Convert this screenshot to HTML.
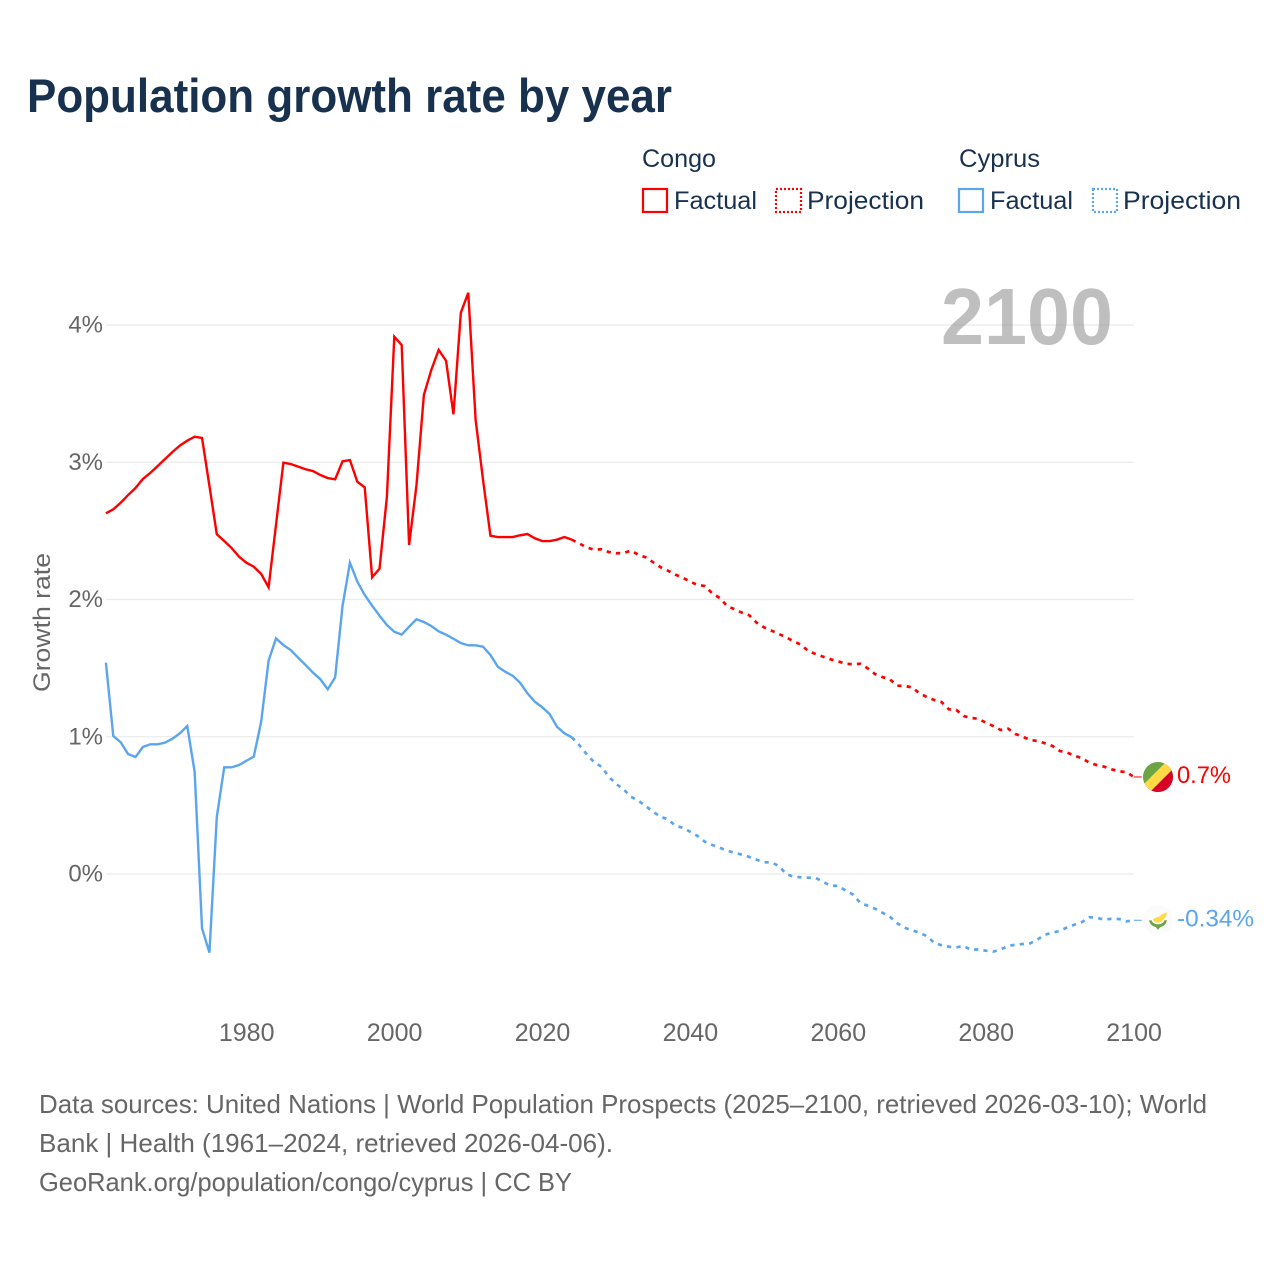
<!DOCTYPE html>
<html lang="en">
<head>
<meta charset="utf-8">
<title>Population growth rate by year</title>
<style>
html,body{margin:0;padding:0;background:#fff;}
svg{display:block;font-family:"Liberation Sans",sans-serif;}
</style>
</head>
<body>
<svg id="chart" xmlns="http://www.w3.org/2000/svg" width="1280" height="1280" viewBox="0 0 1280 1280">
  <rect x="0" y="0" width="1280" height="1280" fill="#ffffff"/>
  <text x="27" y="112" font-size="47" font-weight="700" fill="#18314f" textLength="645" lengthAdjust="spacingAndGlyphs">Population growth rate by year</text>

  <g font-size="25" fill="#18314f">
    <text x="642" y="167" textLength="74" lengthAdjust="spacingAndGlyphs">Congo</text>
    <text x="959" y="167" textLength="81" lengthAdjust="spacingAndGlyphs">Cyprus</text>
    <rect x="643" y="189" width="24" height="23" fill="none" stroke="#ff0000" stroke-width="2.2"/>
    <text x="674" y="209" textLength="83" lengthAdjust="spacingAndGlyphs">Factual</text>
    <rect x="776" y="189" width="25" height="23" fill="none" stroke="#ff0000" stroke-width="2.2" stroke-dasharray="2 2"/>
    <text x="807" y="209" textLength="117" lengthAdjust="spacingAndGlyphs">Projection</text>
    <rect x="959" y="189" width="24" height="23" fill="none" stroke="#5aa5ee" stroke-width="2.2"/>
    <text x="990" y="209" textLength="83" lengthAdjust="spacingAndGlyphs">Factual</text>
    <rect x="1093" y="189" width="24" height="23" fill="none" stroke="#5aa5ee" stroke-width="2.2" stroke-dasharray="2 2"/>
    <text x="1123" y="209" textLength="118" lengthAdjust="spacingAndGlyphs">Projection</text>
  </g>

  <g id="grid"></g>
  <g id="y-ticks" font-size="24" fill="#666666" text-anchor="end"></g>
  <g id="x-ticks" font-size="25" fill="#666666" text-anchor="middle"></g>
  <text transform="translate(50,622.5) rotate(-90)" font-size="24" fill="#666666" text-anchor="middle" textLength="139" lengthAdjust="spacingAndGlyphs">Growth rate</text>

  <g id="series"></g>

  <text x="941" y="344" font-size="80" font-weight="700" fill="#7f7f7f" fill-opacity="0.5" textLength="172" lengthAdjust="spacingAndGlyphs">2100</text>

  <defs>
    <clipPath id="flag-clip"><circle cx="0" cy="0" r="15"/></clipPath>
  </defs>
  <g id="flag-congo">
    <g clip-path="url(#flag-clip)">
      <rect x="-16" y="-16" width="32" height="32" fill="#6da544"/>
      <polygon points="-16,16 16,-16 16,16" fill="#d80027"/>
      <polygon points="-16,9 9,-16 16,-16 16,-9 -9,16 -16,16" fill="#ffda44"/>
    </g>
  </g>
  <g id="flag-cyprus">
    <circle cx="0" cy="0" r="15" fill="#fbfbfb"/>
    <path d="M-5,-1 C-3,-3 2,-3 4,-6 L9,-8 L8,-4 C6,-1 4,1 2,2 C-1,3 -4,2 -5,-1 Z" fill="#ffda44"/>
    <path d="M-9,0 C-8,5 -4,7 0,7 C4,7 8,5 9,0 L6.5,0 C5.5,3 3,4 0,4 C-3,4 -5.5,3 -6.5,0 Z" fill="#6da544"/>
    <path d="M-3,6 L0,9.5 L3,6 Z" fill="#6da544"/>
  </g>
  <text id="label-congo" x="1177" font-size="24" fill="#ff0000" textLength="54" lengthAdjust="spacingAndGlyphs"></text>
  <text id="label-cyprus" x="1177" font-size="24" fill="#5aa5ee" textLength="77" lengthAdjust="spacingAndGlyphs"></text>

  <g font-size="26" fill="#666666">
    <text x="39" y="1113" textLength="1168" lengthAdjust="spacingAndGlyphs">Data sources: United Nations | World Population Prospects (2025–2100, retrieved 2026-03-10); World</text>
    <text x="39" y="1152" textLength="574" lengthAdjust="spacingAndGlyphs">Bank | Health (1961–2024, retrieved 2026-04-06).</text>
    <text x="39" y="1191" textLength="533" lengthAdjust="spacingAndGlyphs">GeoRank.org/population/congo/cyprus | CC BY</text>
  </g>
</svg>
<script>
const xTickLabels = ['1980', '2000', '2020', '2040', '2060', '2080', '2100'];
const yTickValues = [0, 1, 2, 3, 4];
const yTickLabels = ['0%', '1%', '2%', '3%', '4%'];
const endLabels = ['0.7%', '-0.34%'];
const factualStartYear = 1961;
const projectionStartYear = 2024;

const congoFactual = [2.628,2.657,2.705,2.761,2.812,2.878,2.922,2.973,3.024,3.075,3.121,3.157,3.186,3.177,2.827,2.475,2.426,2.375,2.312,2.268,2.239,2.186,2.089,2.543,2.997,2.987,2.968,2.949,2.936,2.907,2.885,2.876,3.007,3.016,2.858,2.817,2.162,2.224,2.749,3.915,3.854,2.397,2.834,3.490,3.672,3.818,3.740,3.349,4.090,4.235,3.308,2.871,2.465,2.455,2.455,2.455,2.468,2.477,2.446,2.426,2.426,2.436,2.455,2.436];
const congoProjection = [2.436,2.409,2.380,2.363,2.366,2.346,2.337,2.339,2.356,2.326,2.307,2.271,2.235,2.210,2.181,2.159,2.130,2.106,2.098,2.045,2.011,1.953,1.929,1.904,1.885,1.831,1.797,1.773,1.749,1.725,1.695,1.671,1.623,1.603,1.583,1.564,1.550,1.532,1.528,1.532,1.499,1.457,1.435,1.419,1.372,1.370,1.360,1.317,1.290,1.268,1.253,1.200,1.195,1.151,1.137,1.131,1.102,1.078,1.049,1.059,1.020,1.000,0.976,0.969,0.952,0.933,0.896,0.884,0.862,0.843,0.811,0.794,0.782,0.763,0.748,0.743,0.707];
const cyprusFactual = [1.540,1.005,0.960,0.874,0.852,0.925,0.945,0.945,0.957,0.986,1.025,1.078,0.745,-0.396,-0.573,0.417,0.777,0.777,0.794,0.825,0.855,1.110,1.554,1.717,1.668,1.632,1.576,1.523,1.467,1.419,1.346,1.433,1.953,2.268,2.130,2.033,1.955,1.882,1.814,1.765,1.744,1.802,1.856,1.836,1.807,1.768,1.744,1.714,1.683,1.666,1.666,1.656,1.596,1.510,1.474,1.445,1.394,1.317,1.255,1.215,1.166,1.073,1.025,0.996];
const cyprusProjection = [0.996,0.940,0.874,0.816,0.782,0.709,0.656,0.617,0.563,0.534,0.495,0.454,0.417,0.399,0.352,0.337,0.308,0.277,0.235,0.211,0.192,0.170,0.155,0.141,0.124,0.104,0.085,0.085,0.058,0,-0.020,-0.024,-0.027,-0.029,-0.058,-0.085,-0.087,-0.119,-0.149,-0.209,-0.231,-0.253,-0.282,-0.311,-0.359,-0.391,-0.410,-0.428,-0.452,-0.501,-0.519,-0.530,-0.534,-0.525,-0.554,-0.549,-0.559,-0.566,-0.549,-0.525,-0.515,-0.510,-0.505,-0.476,-0.442,-0.428,-0.415,-0.388,-0.369,-0.350,-0.315,-0.318,-0.333,-0.326,-0.328,-0.345,-0.337];

const SVG_NS = 'http://www.w3.org/2000/svg';
function xScale(year) { return 394.3 + (year - 2000) * 7.395; }
function yScale(value) { return 874 - value * 137.25; }
function make(tag, attrs) {
  const el = document.createElementNS(SVG_NS, tag);
  Object.keys(attrs).forEach(function (k) { el.setAttribute(k, attrs[k]); });
  return el;
}
function linePath(values, startYear) {
  return values.map(function (v, i) {
    return (i ? 'L' : 'M') + xScale(startYear + i).toFixed(2) + ' ' + yScale(v).toFixed(2);
  }).join(' ');
}

const gridGroup = document.getElementById('grid');
const yTickGroup = document.getElementById('y-ticks');
yTickValues.forEach(function (v, i) {
  const line = make('line', { x1: 106, x2: 1134, y1: yScale(v), y2: yScale(v), stroke: '#ebebeb', 'stroke-width': 1.3 });
  
  
  gridGroup.appendChild(line);
  const label = make('text', { x: 103, y: yScale(v) + 7.5 });
  
  
  label.textContent = yTickLabels[i];
  yTickGroup.appendChild(label);
});

const xTickGroup = document.getElementById('x-ticks');
xTickLabels.forEach(function (t) {
  const label = make('text', { x: xScale(Number(t)) + 0.3, y: 1041 });
  
  
  label.textContent = t;
  xTickGroup.appendChild(label);
});

const seriesGroup = document.getElementById('series');
function addLine(d, color, dashed, name) {
  const attrs = { d: d, fill: 'none', stroke: color, 'stroke-width': 2.4 };
  if (dashed) {
    attrs['stroke-dasharray'] = '4.2 5.2';
    attrs['stroke-width'] = 2.7;
  }
  const path = make('path', attrs);
  
  
  seriesGroup.appendChild(path);
}
addLine(linePath(congoFactual, factualStartYear), '#ff0000', false, 'line-congo-factual');
addLine(linePath(cyprusFactual, factualStartYear), '#5aa5ee', false, 'line-cyprus-factual');
addLine(linePath(congoProjection, projectionStartYear), '#ff0000', true, 'line-congo-projection');
addLine(linePath(cyprusProjection, projectionStartYear), '#5aa5ee', true, 'line-cyprus-projection');

function addEnd(values, color, flagId, labelId, text, name) {
  const last = values[values.length - 1];
  const ex = xScale(2100);
  const ey = yScale(last);
  const tail = make('line', { x1: ex, x2: ex + 8, y1: ey, y2: ey, stroke: color, 'stroke-width': 1 });
  
  
  seriesGroup.appendChild(tail);
  document.getElementById(flagId).setAttribute('transform', 'translate(1158,' + ey.toFixed(2) + ')');
  const label = document.getElementById(labelId);
  label.setAttribute('y', (ey + 6).toFixed(2));
  label.textContent = text;
}
addEnd(congoProjection, '#ff0000', 'flag-congo', 'label-congo', endLabels[0], 'end-connector-congo');
addEnd(cyprusProjection, '#5aa5ee', 'flag-cyprus', 'label-cyprus', endLabels[1], 'end-connector-cyprus');
</script>
</body>
</html>
